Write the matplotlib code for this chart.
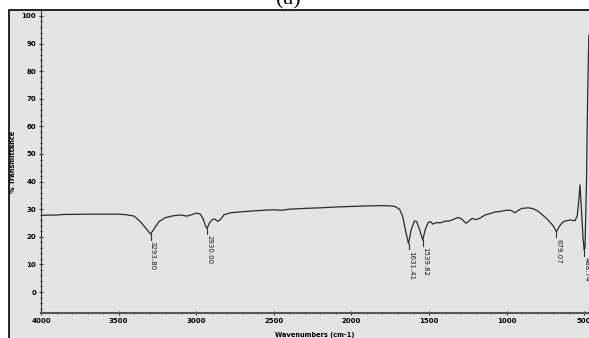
import numpy as np
import matplotlib.pyplot as plt
from matplotlib.patches import Rectangle
from matplotlib.ticker import MultipleLocator

# FTIR spectrum
wavenumber = [4000, 3900, 3850, 3700, 3600, 3500, 3450, 3400, 3360, 3320,
              3294, 3270, 3240, 3200, 3150, 3100, 3060, 3030, 3000, 2975,
              2955, 2940, 2930, 2915, 2895, 2880, 2860, 2845, 2820, 2780,
              2700, 2600, 2500, 2450, 2400, 2300, 2200, 2100, 2000, 1900,
              1800, 1750, 1720, 1690, 1670, 1650, 1632, 1615, 1595, 1580,
              1560, 1540, 1525, 1505, 1490, 1475, 1450, 1430, 1400, 1365,
              1340, 1313, 1290, 1262, 1240, 1222, 1200, 1170, 1139, 1100,
              1075, 1040, 1010, 978, 960, 946, 930, 901, 860, 830,
              800, 785, 760, 733, 700, 679, 660, 640, 624, 591,
              560, 545, 535, 527, 518, 508, 500, 495, 485, 478, 470]
transmittance = [27.8, 27.9, 28.1, 28.2, 28.2, 28.2, 28.0, 27.5, 25.5, 22.8,
                 21.0, 23.0, 25.5, 26.9, 27.6, 27.9, 27.5, 28.0, 28.6, 28.3,
                 26.5, 24.0, 23.0, 25.0, 26.3, 26.4, 25.6, 26.2, 28.0, 28.7,
                 29.1, 29.5, 29.8, 29.6, 30.0, 30.3, 30.5, 30.8, 31.0, 31.2,
                 31.3, 31.2, 31.0, 30.0, 27.5, 22.0, 17.5, 22.5, 25.7, 25.6,
                 22.5, 18.8, 22.5, 25.2, 25.5, 24.6, 25.2, 25.0, 25.6, 25.8,
                 26.4, 27.0, 26.5, 24.9, 25.8, 26.7, 26.2, 26.8, 27.9, 28.5,
                 29.0, 29.2, 29.5, 29.7, 29.2, 28.7, 29.4, 30.3, 30.5, 30.2,
                 29.4, 28.7, 27.5, 26.1, 24.0, 21.8, 23.8, 25.2, 25.7, 26.1,
                 25.8, 27.5, 33.0, 38.8, 30.0, 20.0, 15.2, 16.0, 40.0, 70.0, 93.0]

peak_pos = [3294, 2930, 1632, 1540, 679, 500]
peak_val = [21.0, 23.0, 17.5, 18.8, 21.8, 15.2]
peak_labels = ["3293.80", "2930.00", "1631.41", "1539.82", "679.07", "488.74"]

W, H = 589, 338
fig = plt.figure(figsize=(W / 100, H / 100), dpi=100)
fig.patch.set_facecolor("white")

# grey panel with black frame, behind the axes
panel = Rectangle((9 / W, -0.01), 1.0, (H - 10) / H + 0.01,
                  transform=fig.transFigure, facecolor="#e4e4e4",
                  edgecolor="black", lw=1.2, zorder=-10)
fig.add_artist(panel)
fig.text(0.49, 1.0, "(a)", ha="center", va="center", fontsize=16,
         family="Liberation Serif")

ax = fig.add_axes([41 / W, (H - 313) / H, (W - 41) / W, (313 - 11) / H])
ax.set_zorder(5)
ax.set_facecolor("none")
ax.plot(wavenumber, transmittance, color="#2a2a2a", lw=0.9)

ax.set_xlim(4000, 469)
ax.set_ylim(-7.6, 101.8)
ax.xaxis.set_major_locator(MultipleLocator(500))
ax.xaxis.set_minor_locator(MultipleLocator(100))
ax.yaxis.set_minor_locator(MultipleLocator(2))
ax.set_yticks(range(0, 101, 10))
ax.tick_params(axis="both", which="major", labelsize=5, length=3,
               width=0.8, direction="inout", pad=2, color="#333333")
ax.tick_params(axis="both", which="minor", length=2, width=0.8,
               direction="inout", color="#333333")
for lab in ax.get_xticklabels() + ax.get_yticklabels():
    lab.set_fontweight("bold")

for side in ["top", "right"]:
    ax.spines[side].set_visible(False)
ax.spines["left"].set_color("#333333")
ax.spines["bottom"].set_color("#555555")
ax.spines["bottom"].set_linewidth(1.5)

ax.set_xlabel("Wavenumbers (cm-1)", fontsize=4.8, fontweight="bold", labelpad=6)
ax.set_ylabel("% Transmittance", fontsize=4.8, fontweight="bold", labelpad=4)

for x, y, t in zip(peak_pos, peak_val, peak_labels):
    ax.plot([x, x], [y, y - 2], color="#333333", lw=0.8)
    ax.text(x - 15, y - 2.5, t, rotation=270, ha="center", va="top",
            fontsize=5, color="#1a1a1a", clip_on=False)

fig.savefig("out.png", dpi=100)
